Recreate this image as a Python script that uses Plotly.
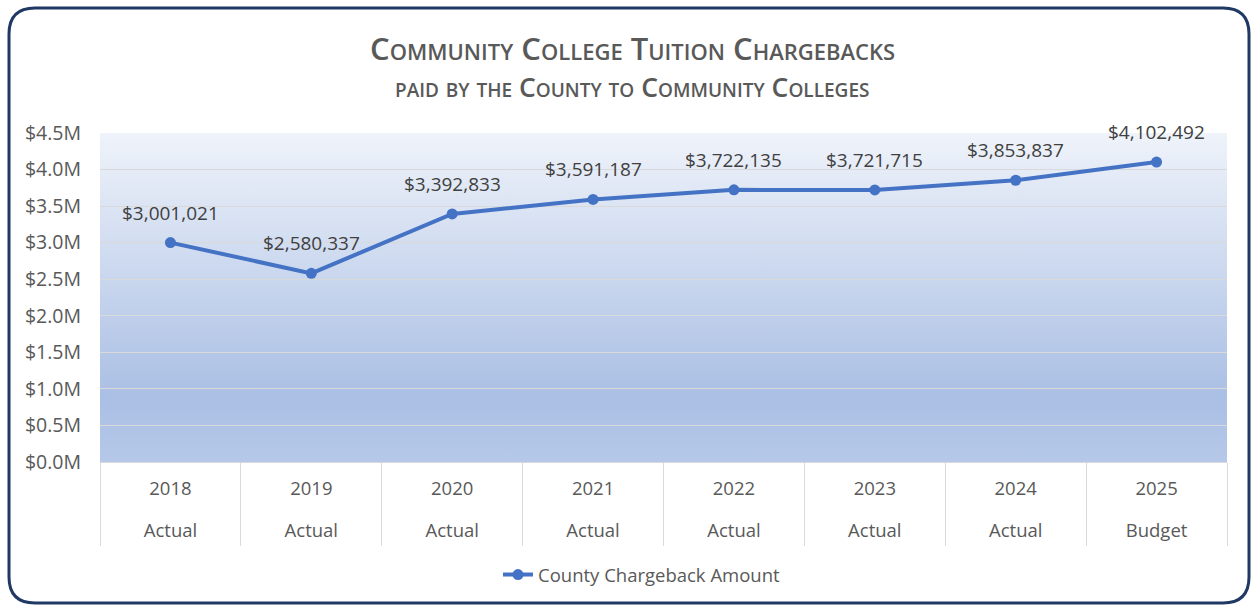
import base64
import plotly.graph_objects as go

# ---- data ----
years = ["2018", "2019", "2020", "2021", "2022", "2023", "2024", "2025"]
status = ["Actual", "Actual", "Actual", "Actual", "Actual", "Actual", "Actual", "Budget"]
amounts = [3001021, 2580337, 3392833, 3591187, 3722135, 3721715, 3853837, 4102492]
y_ticks = [0, 500000, 1000000, 1500000, 2000000, 2500000, 3000000, 3500000, 4000000, 4500000]
y_ticktext = [f"${v/1e6:.1f}M" for v in y_ticks]
series_name = "County Chargeback Amount"
title_text = "Community College Tuition Chargebacks"
subtitle_text = "paid by the County to Community Colleges"

FONT = "Open Sans"
TXT = "#595959"
LINE = "#4472C4"
FS = 18.5

W, H = 1252, 607
L, R, T, B = 100, 25, 133, 145
PW, PH = W - L - R, H - T - B


def px2x(px):
    return (px - L) / PW


def py2y(py):
    return (H - B - py) / PH


fig = go.Figure()
fig.add_trace(go.Scatter(
    x=years, y=amounts, mode="lines+markers", name=series_name,
    line=dict(color=LINE, width=4), marker=dict(size=11, color=LINE),
    showlegend=True, hoverinfo="skip"))

# invisible trace to drive the second category row
fig.add_trace(go.Scatter(x=list(range(len(years))), y=[None] * len(years), xaxis="x2",
                         showlegend=False, hoverinfo="skip"))

for i, yv in enumerate(amounts):
    fig.add_annotation(x=i, y=yv, xref="x", yref="y", text=f"${yv:,.0f}", showarrow=False,
                       yshift=30, font=dict(family=FONT, size=19, color="#404040"))

# titles
fig.add_annotation(text=title_text, xref="paper", yref="paper", x=px2x(632),
                   y=py2y(48), yanchor="middle", showarrow=False,
                   font=dict(family=FONT, size=31, color=TXT, variant="small-caps", weight=600))
fig.add_annotation(text=subtitle_text, xref="paper", yref="paper", x=px2x(632),
                   y=py2y(87), yanchor="middle", showarrow=False,
                   font=dict(family=FONT, size=26.5, color=TXT, variant="small-caps", weight=600))

# gradient background image
svg = ('<svg xmlns="http://www.w3.org/2000/svg" width="100" height="100" preserveAspectRatio="none">'
       '<defs><linearGradient id="g" x1="0" y1="0" x2="0" y2="1">'
       '<stop offset="0" stop-color="#EFF3FA"/>'
       '<stop offset="0.8" stop-color="#AABFE4"/>'
       '<stop offset="1" stop-color="#B5C8E9"/>'
       '</linearGradient></defs><rect width="100" height="100" fill="url(#g)"/></svg>')
src = "data:image/svg+xml;base64," + base64.b64encode(svg.encode()).decode()
fig.add_layout_image(source=src, xref="paper", yref="paper", x=0, y=1, sizex=1, sizey=1,
                     sizing="stretch", xanchor="left", yanchor="top", layer="below")

# rounded border
x0, x1, y0, y1, r = 9, 1249, 8, 603, 26
path = (f"M {px2x(x0)},{py2y(y0 + r)} L {px2x(x0)},{py2y(y1 - r)} "
        f"Q {px2x(x0)},{py2y(y1)} {px2x(x0 + r)},{py2y(y1)} "
        f"L {px2x(x1 - r)},{py2y(y1)} Q {px2x(x1)},{py2y(y1)} {px2x(x1)},{py2y(y1 - r)} "
        f"L {px2x(x1)},{py2y(y0 + r)} Q {px2x(x1)},{py2y(y0)} {px2x(x1 - r)},{py2y(y0)} "
        f"L {px2x(x0 + r)},{py2y(y0)} Q {px2x(x0)},{py2y(y0)} {px2x(x0)},{py2y(y0 + r)} Z")
fig.add_shape(type="path", path=path, xref="paper", yref="paper",
              line=dict(color="#203864", width=3), layer="above")

fig.update_layout(
    width=W, height=H,
    margin=dict(l=L, r=R, t=T, b=B, autoexpand=False),
    paper_bgcolor="white", plot_bgcolor="rgba(0,0,0,0)",
    font=dict(family=FONT, color=TXT, size=FS),
    xaxis=dict(type="category", range=[-0.5, len(years) - 0.5], showgrid=False,
               tickson="boundaries", ticks="outside", ticklen=83, tickcolor="#D9D9D9",
               tickwidth=1, showline=True, linecolor="#D9D9D9", linewidth=1,
               tickfont=dict(family=FONT, size=FS, color=TXT), ticklabelstandoff=10,
               fixedrange=True),
    xaxis2=dict(overlaying="x", side="bottom", range=[-0.5, len(years) - 0.5],
                tickmode="array", tickvals=list(range(len(years))), ticktext=status,
                showgrid=False, zeroline=False, ticks="", showline=False,
                tickfont=dict(family=FONT, size=FS, color=TXT), ticklabelstandoff=55),
    yaxis=dict(range=[0, 4500000], tickmode="array", tickvals=y_ticks, ticktext=y_ticktext,
               showgrid=True, gridcolor="#D9D9D9", gridwidth=1, zeroline=False,
               ticks="", ticklabelstandoff=18, showline=False,
               tickfont=dict(family=FONT, size=19.5, color=TXT)),
    legend=dict(orientation="h", x=px2x(642), xanchor="center", y=py2y(575), yanchor="middle",
                font=dict(family=FONT, size=FS, color=TXT), bgcolor="rgba(0,0,0,0)"),
)

fig.write_html("out.html", config={"displayModeBar": False},
               post_script="document.body.style.margin='0';")
